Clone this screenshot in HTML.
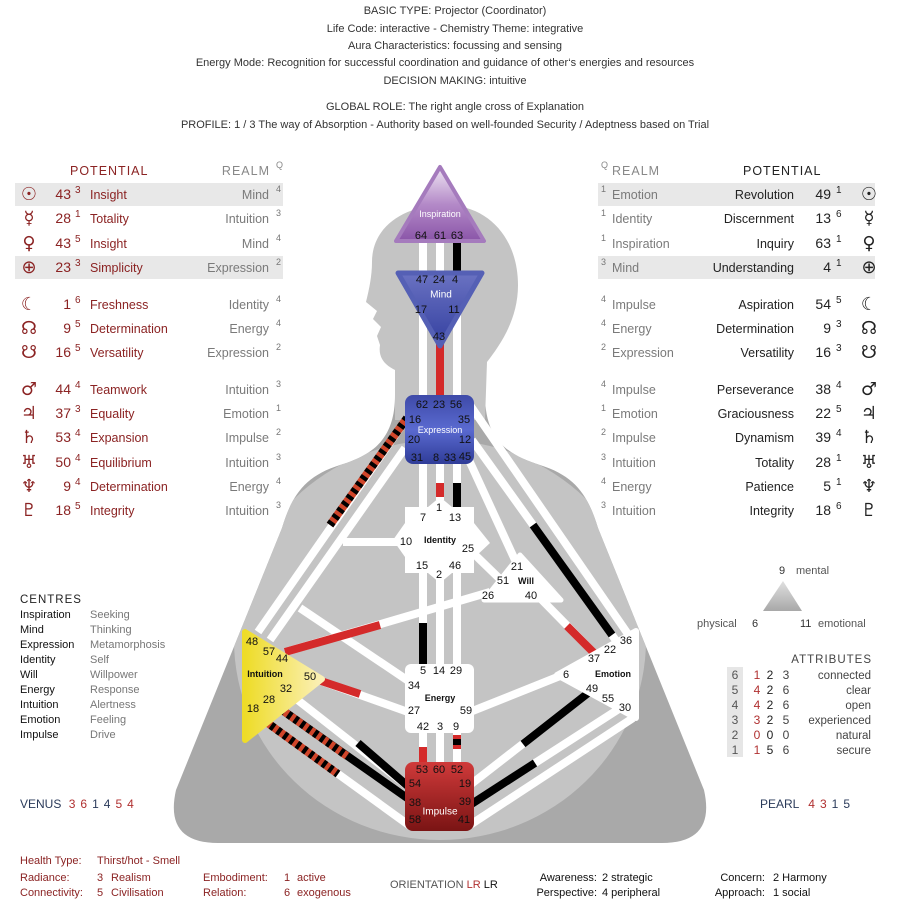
<!DOCTYPE html>
<html><head><meta charset="utf-8"><style>
html,body{margin:0;padding:0;background:#fff;}
svg{display:block;font-family:"Liberation Sans","DejaVu Sans",sans-serif;}
.t{font-size:11px;fill:#333;text-anchor:middle}
.lr{font-size:12.5px;fill:#8b2323}
.lg{font-size:12.5px;fill:#7a7a7a}
.sp{font-size:9px}
.g{font-size:11px;fill:#111;text-anchor:middle;dominant-baseline:central}
.gw{font-size:9px;fill:#fff;text-anchor:middle;dominant-baseline:central}
.gb{font-size:9px;fill:#111;text-anchor:middle;dominant-baseline:central;font-weight:bold}
.sym{font-family:"DejaVu Sans",sans-serif;font-size:18px}
</style></head><body>
<svg width="899" height="915" viewBox="0 0 899 915" xmlns="http://www.w3.org/2000/svg">
<defs>
<linearGradient id="insp" x1="0" y1="0" x2="0" y2="1"><stop offset="0" stop-color="#efe6f3"/><stop offset="0.5" stop-color="#b48ac8"/><stop offset="1" stop-color="#8a55a8"/></linearGradient>
<linearGradient id="mind" x1="0" y1="0" x2="0" y2="1"><stop offset="0" stop-color="#6a72c2"/><stop offset="1" stop-color="#3440a0"/></linearGradient>
<linearGradient id="expr" x1="0" y1="0" x2="0" y2="1"><stop offset="0" stop-color="#3e4aa8"/><stop offset="0.5" stop-color="#5a6ad0"/><stop offset="1" stop-color="#2f3c98"/></linearGradient>
<linearGradient id="imp" x1="0" y1="0" x2="0" y2="1"><stop offset="0" stop-color="#d03a3a"/><stop offset="1" stop-color="#7a1414"/></linearGradient>
<linearGradient id="intu" x1="0" y1="0" x2="1" y2="0"><stop offset="0" stop-color="#eedc28"/><stop offset="1" stop-color="#fbf0b8"/></linearGradient>
<linearGradient id="tri" x1="0" y1="0" x2="0" y2="1"><stop offset="0" stop-color="#e0e0e0"/><stop offset="1" stop-color="#a8a8a8"/></linearGradient>
<clipPath id="bodyclip"><path d="M395,395 C395,440 372,455 340,465 C305,476 292,495 282,528 L176,790 Q164,843 218,843 L662,843 Q716,843 704,790 L598,528 C588,495 575,476 540,465 C508,455 485,440 485,395 Z"/></clipPath>
</defs>

<text class="t" x="455" y="14">BASIC TYPE: Projector (Coordinator)</text>
<text class="t" x="455" y="32">Life Code: interactive  -  Chemistry Theme: integrative</text>
<text class="t" x="455" y="49">Aura Characteristics: focussing and sensing</text>
<text class="t" x="445" y="66">Energy Mode: Recognition for successful coordination and guidance of other‘s energies and resources</text>
<text class="t" x="455" y="84">DECISION MAKING: intuitive</text>
<text class="t" x="455" y="110">GLOBAL ROLE: The right angle cross of Explanation</text>
<text class="t" x="445" y="128">PROFILE: 1 / 3 The way of Absorption - Authority based on well-founded Security / Adeptness based on Trial</text>

<path d="M395,395 C395,440 372,455 340,465 C305,476 292,495 282,528 L176,790 Q164,843 218,843 L662,843 Q716,843 704,790 L598,528 C588,495 575,476 540,465 C508,455 485,440 485,395 Z" fill="#a9a9a9"/>
<ellipse cx="440" cy="640" rx="206" ry="200" fill="#c4c4c4" clip-path="url(#bodyclip)"/>
<path d="M395,420 L395,370 C385,365 378,358 380,345 L377,336 L381,327 L373,319 L377,311 L366,302 C369,290 372,276 372,262 C372,226 405,205 445,205 C490,205 518,240 518,285 C518,320 500,345 487,362 L485,420 Z" fill="#c4c4c4"/>

<g stroke-width="8" fill="none">
<line x1="423" y1="240" x2="423" y2="275" stroke="#fff"/>
<line x1="440" y1="240" x2="440" y2="275" stroke="#fff"/>
<line x1="457" y1="240" x2="457" y2="275" stroke="#000"/>
<line x1="423" y1="310" x2="423" y2="398" stroke="#fff"/>
<line x1="457" y1="310" x2="457" y2="398" stroke="#fff"/>
<line x1="440" y1="340" x2="440" y2="398" stroke="#d42a2a"/>
<line x1="423" y1="460" x2="423" y2="512" stroke="#fff"/>
<line x1="440" y1="460" x2="440" y2="500" stroke="#fff"/>
<line x1="440" y1="483" x2="440" y2="497" stroke="#d42a2a"/>
<line x1="457" y1="460" x2="457" y2="510" stroke="#fff"/>
<line x1="457" y1="483" x2="457" y2="510" stroke="#000"/>
<line x1="423" y1="570" x2="423" y2="668" stroke="#fff"/>
<line x1="423" y1="623" x2="423" y2="664" stroke="#000"/>
<line x1="440" y1="575" x2="440" y2="668" stroke="#fff"/>
<line x1="457" y1="570" x2="457" y2="668" stroke="#fff"/>
<line x1="423" y1="728" x2="423" y2="766" stroke="#fff"/>
<line x1="423" y1="747" x2="423" y2="766" stroke="#d42a2a"/>
<line x1="440" y1="728" x2="440" y2="766" stroke="#fff"/>
<line x1="457" y1="728" x2="457" y2="766" stroke="#fff"/>
<line x1="457" y1="735" x2="457" y2="749" stroke="#d42a2a"/>
<line x1="457" y1="739" x2="457" y2="745" stroke="#000"/>
<line x1="258" y1="632" x2="407" y2="418" stroke="#fff"/>
<line x1="330" y1="525" x2="407" y2="418" stroke="#d0452a"/>
<line x1="330" y1="525" x2="407" y2="418" stroke="#000" stroke-dasharray="4 4"/>
<line x1="270" y1="640" x2="405" y2="448" stroke="#fff"/>
<line x1="343" y1="542" x2="400" y2="542" stroke="#fff"/>
<line x1="300" y1="608" x2="410" y2="682" stroke="#fff"/>
<line x1="285" y1="652" x2="490" y2="592" stroke="#fff"/>
<line x1="285" y1="652" x2="380" y2="625" stroke="#d42a2a"/>
<line x1="318" y1="680" x2="408" y2="712" stroke="#fff"/>
<line x1="318" y1="680" x2="360" y2="694" stroke="#d42a2a"/>
<line x1="290" y1="694" x2="410" y2="788" stroke="#fff"/>
<line x1="358" y1="743" x2="410" y2="788" stroke="#000"/>
<line x1="275" y1="705" x2="410" y2="800" stroke="#000"/>
<line x1="275" y1="705" x2="347" y2="756" stroke="#d0452a"/>
<line x1="275" y1="705" x2="347" y2="756" stroke="#000" stroke-dasharray="4 4"/>
<line x1="258" y1="716" x2="410" y2="826" stroke="#fff"/>
<line x1="258" y1="716" x2="338" y2="774" stroke="#d0452a"/>
<line x1="258" y1="716" x2="338" y2="774" stroke="#000" stroke-dasharray="4 4"/>
<line x1="470" y1="405" x2="630" y2="637" stroke="#fff"/>
<line x1="472" y1="440" x2="617" y2="642" stroke="#fff"/>
<line x1="533" y1="525" x2="612" y2="635" stroke="#000"/>
<line x1="468" y1="458" x2="515" y2="560" stroke="#fff"/>
<line x1="470" y1="550" x2="503" y2="582" stroke="#fff"/>
<line x1="540" y1="598" x2="596" y2="655" stroke="#fff"/>
<line x1="567" y1="626" x2="596" y2="655" stroke="#d42a2a"/>
<line x1="470" y1="712" x2="560" y2="676" stroke="#fff"/>
<line x1="470" y1="785" x2="592" y2="690" stroke="#fff"/>
<line x1="523" y1="744" x2="592" y2="690" stroke="#000"/>
<line x1="470" y1="805" x2="625" y2="705" stroke="#fff"/>
<line x1="470" y1="805" x2="535" y2="763" stroke="#000"/>
<line x1="470" y1="825" x2="633" y2="718" stroke="#fff"/>
</g>

<path d="M440,167 L484,241 L396,241 Z" fill="url(#insp)" stroke="#a57bbd" stroke-width="4" stroke-linejoin="round"/>
<path d="M398,273 L482,273 L440,346 Z" fill="url(#mind)" stroke="#5560b5" stroke-width="5" stroke-linejoin="round"/>
<rect x="405" y="395" width="69" height="69" rx="8" fill="url(#expr)"/>
<polygon points="440,497 452,507 474,507 474,523 490,543 474,558 474,573 452,573 440,583 428,573 405,573 405,557 393,540 405,523 405,507 428,507" fill="#fff"/>
<path d="M484,600 L520,555 L561,600 Z" fill="#fff" stroke="#fff" stroke-width="5" stroke-linejoin="round"/>
<rect x="405" y="664" width="69" height="69" rx="6" fill="#fff"/>
<path d="M557,675 L636,631 L636,718 Z" fill="#fff" stroke="#fff" stroke-width="6" stroke-linejoin="round"/>
<path d="M245,632 L245,740 L322,679 Z" fill="url(#intu)" stroke="url(#intu)" stroke-width="6" stroke-linejoin="round"/>
<rect x="405" y="762" width="69" height="69" rx="8" fill="url(#imp)"/>

<text class="gw" x="440" y="214">Inspiration</text>
<text class="g" x="421" y="236">64</text><text class="g" x="440" y="236">61</text><text class="g" x="457" y="236">63</text>
<text class="g" x="422" y="280">47</text><text class="g" x="439" y="280">24</text><text class="g" x="455" y="280">4</text>
<text class="gw" x="441" y="295" style="font-size:10px">Mind</text>
<text class="g" x="421" y="310">17</text><text class="g" x="454" y="310">11</text>
<text class="g" x="439" y="337">43</text>
<text class="g" x="422" y="405">62</text><text class="g" x="439" y="405">23</text><text class="g" x="456" y="405">56</text>
<text class="g" x="415" y="420">16</text><text class="g" x="464" y="420">35</text>
<text class="gw" x="440" y="430">Expression</text>
<text class="g" x="414" y="440">20</text><text class="g" x="465" y="440">12</text>
<text class="g" x="417" y="458">31</text><text class="g" x="436" y="458">8</text><text class="g" x="450" y="458">33</text><text class="g" x="465" y="457">45</text>
<text class="g" x="439" y="508">1</text>
<text class="g" x="423" y="518">7</text><text class="g" x="455" y="518">13</text>
<text class="g" x="406" y="542">10</text><text class="gb" x="440" y="540">Identity</text><text class="g" x="468" y="549">25</text>
<text class="g" x="422" y="566">15</text><text class="g" x="439" y="575">2</text><text class="g" x="455" y="566">46</text>
<text class="g" x="517" y="567">21</text><text class="g" x="503" y="581">51</text><text class="gb" x="526" y="581">Will</text>
<text class="g" x="488" y="596">26</text><text class="g" x="531" y="596">40</text>
<text class="g" x="423" y="671">5</text><text class="g" x="439" y="671">14</text><text class="g" x="456" y="671">29</text>
<text class="g" x="414" y="686">34</text><text class="gb" x="440" y="698">Energy</text>
<text class="g" x="414" y="711">27</text><text class="g" x="466" y="711">59</text>
<text class="g" x="423" y="727">42</text><text class="g" x="440" y="727">3</text><text class="g" x="456" y="727">9</text>
<text class="g" x="626" y="641">36</text><text class="g" x="610" y="650">22</text><text class="g" x="594" y="659">37</text>
<text class="g" x="566" y="675">6</text><text class="gb" x="613" y="674">Emotion</text>
<text class="g" x="592" y="689">49</text><text class="g" x="608" y="699">55</text><text class="g" x="625" y="708">30</text>
<text class="g" x="252" y="642">48</text><text class="g" x="269" y="652">57</text><text class="g" x="282" y="659">44</text>
<text class="gb" x="265" y="674">Intuition</text><text class="g" x="310" y="677">50</text>
<text class="g" x="286" y="689">32</text><text class="g" x="269" y="700">28</text><text class="g" x="253" y="709">18</text>
<text class="g" x="422" y="770">53</text><text class="g" x="439" y="770">60</text><text class="g" x="457" y="770">52</text>
<text class="g" x="415" y="784">54</text><text class="g" x="465" y="784">19</text>
<text class="g" x="415" y="803">38</text><text class="g" x="465" y="802">39</text>
<text class="gw" x="440" y="812" style="font-size:10px">Impulse</text>
<text class="g" x="415" y="820">58</text><text class="g" x="464" y="820">41</text>

<rect x="15" y="183" width="268" height="23" fill="#e8e8e8"/>
<rect x="15" y="256" width="268" height="23" fill="#e8e8e8"/>
<text x="70" y="175" style="font-size:12.5px;fill:#8b2323;letter-spacing:1px">POTENTIAL</text>
<text x="270" y="175" text-anchor="end" style="font-size:12.5px;fill:#888;letter-spacing:1px">REALM</text>
<text x="276" y="168" class="sp" fill="#888">Q</text>
<g class="lr">
<g text-anchor="middle" class="sym">
<text x="29" y="200">☉</text><text x="29" y="224">☿</text><text x="29" y="249">♀</text><text x="29" y="273">⊕</text>
<text x="29" y="310">☾</text><text x="29" y="334">☊</text><text x="29" y="358">☋</text>
<text x="29" y="395">♂</text><text x="29" y="419">♃</text><text x="29" y="443">♄</text><text x="29" y="468">♅</text><text x="29" y="492">♆</text><text x="29" y="516">♇</text>
</g>
<g text-anchor="end" style="font-size:14px">
<text x="71" y="199">43</text><text x="71" y="223">28</text><text x="71" y="248">43</text><text x="71" y="272">23</text>
<text x="71" y="309">1</text><text x="71" y="333">9</text><text x="71" y="357">16</text>
<text x="71" y="394">44</text><text x="71" y="418">37</text><text x="71" y="442">53</text><text x="71" y="467">50</text><text x="71" y="491">9</text><text x="71" y="515">18</text>
</g>
<g style="font-size:10px">
<text x="75" y="193">3</text><text x="75" y="217">1</text><text x="75" y="242">5</text><text x="75" y="266">3</text>
<text x="75" y="303">6</text><text x="75" y="327">5</text><text x="75" y="351">5</text>
<text x="75" y="388">4</text><text x="75" y="412">3</text><text x="75" y="436">4</text><text x="75" y="461">4</text><text x="75" y="485">4</text><text x="75" y="509">5</text>
</g>
<text x="90" y="199">Insight</text><text x="90" y="223">Totality</text><text x="90" y="248">Insight</text><text x="90" y="272">Simplicity</text>
<text x="90" y="309">Freshness</text><text x="90" y="333">Determination</text><text x="90" y="357">Versatility</text>
<text x="90" y="394">Teamwork</text><text x="90" y="418">Equality</text><text x="90" y="442">Expansion</text><text x="90" y="467">Equilibrium</text><text x="90" y="491">Determination</text><text x="90" y="515">Integrity</text>
</g>
<g class="lg" text-anchor="end">
<text x="269" y="199">Mind</text><text x="269" y="223">Intuition</text><text x="269" y="248">Mind</text><text x="269" y="272">Expression</text>
<text x="269" y="309">Identity</text><text x="269" y="333">Energy</text><text x="269" y="357">Expression</text>
<text x="269" y="394">Intuition</text><text x="269" y="418">Emotion</text><text x="269" y="442">Impulse</text><text x="269" y="467">Intuition</text><text x="269" y="491">Energy</text><text x="269" y="515">Intuition</text>
</g>
<g style="font-size:9px;fill:#777">
<text x="276" y="192">4</text><text x="276" y="216">3</text><text x="276" y="241">4</text><text x="276" y="265">2</text>
<text x="276" y="302">4</text><text x="276" y="326">4</text><text x="276" y="350">2</text>
<text x="276" y="387">3</text><text x="276" y="411">1</text><text x="276" y="435">2</text><text x="276" y="460">3</text><text x="276" y="484">4</text><text x="276" y="508">3</text>
</g>

<rect x="598" y="183" width="277" height="23" fill="#e8e8e8"/>
<rect x="598" y="256" width="277" height="23" fill="#e8e8e8"/>
<text x="601" y="168" class="sp" fill="#888">Q</text>
<text x="612" y="175" style="font-size:12.5px;fill:#888;letter-spacing:1px">REALM</text>
<text x="743" y="175" style="font-size:12.5px;fill:#222;letter-spacing:1px">POTENTIAL</text>
<g style="font-size:9px;fill:#777">
<text x="601" y="192">1</text><text x="601" y="216">1</text><text x="601" y="241">1</text><text x="601" y="265">3</text>
<text x="601" y="302">4</text><text x="601" y="326">4</text><text x="601" y="350">2</text>
<text x="601" y="387">4</text><text x="601" y="411">1</text><text x="601" y="435">2</text><text x="601" y="460">3</text><text x="601" y="484">4</text><text x="601" y="508">3</text>
</g>
<g class="lg">
<text x="612" y="199">Emotion</text><text x="612" y="223">Identity</text><text x="612" y="248">Inspiration</text><text x="612" y="272">Mind</text>
<text x="612" y="309">Impulse</text><text x="612" y="333">Energy</text><text x="612" y="357">Expression</text>
<text x="612" y="394">Impulse</text><text x="612" y="418">Emotion</text><text x="612" y="442">Impulse</text><text x="612" y="467">Intuition</text><text x="612" y="491">Energy</text><text x="612" y="515">Intuition</text>
</g>
<g style="font-size:12.5px;fill:#222" text-anchor="end">
<text x="794" y="199">Revolution</text><text x="794" y="223">Discernment</text><text x="794" y="248">Inquiry</text><text x="794" y="272">Understanding</text>
<text x="794" y="309">Aspiration</text><text x="794" y="333">Determination</text><text x="794" y="357">Versatility</text>
<text x="794" y="394">Perseverance</text><text x="794" y="418">Graciousness</text><text x="794" y="442">Dynamism</text><text x="794" y="467">Totality</text><text x="794" y="491">Patience</text><text x="794" y="515">Integrity</text>
</g>
<g style="font-size:14px;fill:#222" text-anchor="end">
<text x="831" y="199">49</text><text x="831" y="223">13</text><text x="831" y="248">63</text><text x="831" y="272">4</text>
<text x="831" y="309">54</text><text x="831" y="333">9</text><text x="831" y="357">16</text>
<text x="831" y="394">38</text><text x="831" y="418">22</text><text x="831" y="442">39</text><text x="831" y="467">28</text><text x="831" y="491">5</text><text x="831" y="515">18</text>
</g>
<g style="font-size:10px;fill:#222">
<text x="836" y="193">1</text><text x="836" y="217">6</text><text x="836" y="242">1</text><text x="836" y="266">1</text>
<text x="836" y="303">5</text><text x="836" y="327">3</text><text x="836" y="351">3</text>
<text x="836" y="388">4</text><text x="836" y="412">5</text><text x="836" y="436">4</text><text x="836" y="461">1</text><text x="836" y="485">1</text><text x="836" y="509">6</text>
</g>
<g style="fill:#222" text-anchor="middle" class="sym">
<text x="869" y="200">☉</text><text x="869" y="224">☿</text><text x="869" y="249">♀</text><text x="869" y="273">⊕</text>
<text x="869" y="310">☾</text><text x="869" y="334">☊</text><text x="869" y="358">☋</text>
<text x="869" y="395">♂</text><text x="869" y="419">♃</text><text x="869" y="443">♄</text><text x="869" y="468">♅</text><text x="869" y="492">♆</text><text x="869" y="516">♇</text>
</g>

<text x="20" y="603" style="font-size:11.5px;fill:#222;letter-spacing:1px">CENTRES</text>
<g style="font-size:11px;fill:#111">
<text x="20" y="618">Inspiration</text><text x="20" y="633">Mind</text><text x="20" y="648">Expression</text><text x="20" y="663">Identity</text><text x="20" y="678">Will</text><text x="20" y="693">Energy</text><text x="20" y="708">Intuition</text><text x="20" y="723">Emotion</text><text x="20" y="738">Impulse</text>
</g>
<g style="font-size:11px;fill:#777">
<text x="90" y="618">Seeking</text><text x="90" y="633">Thinking</text><text x="90" y="648">Metamorphosis</text><text x="90" y="663">Self</text><text x="90" y="678">Willpower</text><text x="90" y="693">Response</text><text x="90" y="708">Alertness</text><text x="90" y="723">Feeling</text><text x="90" y="738">Drive</text>
</g>
<text x="20" y="808" style="font-size:12px;fill:#2a3a5a">VENUS <tspan fill="#b03030" dx="4">3</tspan><tspan fill="#b03030" dx="5">6</tspan><tspan fill="#2a3a5a" dx="5">1</tspan><tspan fill="#2a3a5a" dx="5">4</tspan><tspan fill="#b03030" dx="5">5</tspan><tspan fill="#b03030" dx="5">4</tspan></text>

<text x="779" y="574" style="font-size:11px;fill:#333">9</text><text x="796" y="574" style="font-size:11px;fill:#555">mental</text>
<path d="M783,581 L802,611 L763,611 Z" fill="url(#tri)"/>
<text x="697" y="627" style="font-size:11px;fill:#555">physical</text><text x="752" y="627" style="font-size:11px;fill:#333">6</text>
<text x="800" y="627" style="font-size:11px;fill:#333">11</text><text x="818" y="627" style="font-size:11px;fill:#555">emotional</text>

<text x="872" y="663" text-anchor="end" style="font-size:11.5px;fill:#444;letter-spacing:1px">ATTRIBUTES</text>
<rect x="727" y="667" width="16" height="90" fill="#e6e6e6"/>
<g style="font-size:12px" text-anchor="middle">
<g fill="#555"><text x="735" y="679">6</text><text x="735" y="694">5</text><text x="735" y="709">4</text><text x="735" y="724">3</text><text x="735" y="739">2</text><text x="735" y="754">1</text></g>
<g fill="#b03030"><text x="757" y="679">1</text><text x="757" y="694">4</text><text x="757" y="709">4</text><text x="757" y="724">3</text><text x="757" y="739">0</text><text x="757" y="754">1</text></g>
<g fill="#222"><text x="770" y="679">2</text><text x="770" y="694">2</text><text x="770" y="709">2</text><text x="770" y="724">2</text><text x="770" y="739">0</text><text x="770" y="754">5</text></g>
<g fill="#444"><text x="786" y="679">3</text><text x="786" y="694">6</text><text x="786" y="709">6</text><text x="786" y="724">5</text><text x="786" y="739">0</text><text x="786" y="754">6</text></g>
</g>
<g style="font-size:11.5px;fill:#444" text-anchor="end">
<text x="871" y="679">connected</text><text x="871" y="694">clear</text><text x="871" y="709">open</text><text x="871" y="724">experienced</text><text x="871" y="739">natural</text><text x="871" y="754">secure</text>
</g>
<text x="760" y="808" style="font-size:12px;fill:#2a3a5a">PEARL <tspan fill="#b03030" dx="6">4</tspan><tspan fill="#b03030" dx="5">3</tspan><tspan fill="#2a3a5a" dx="5">1</tspan><tspan fill="#2a3a5a" dx="5">5</tspan></text>

<g style="font-size:11px;fill:#8b2323">
<text x="20" y="864">Health Type:</text><text x="97" y="864">Thirst/hot - Smell</text>
<text x="20" y="881">Radiance:</text><text x="97" y="881">3</text><text x="111" y="881">Realism</text>
<text x="20" y="896">Connectivity:</text><text x="97" y="896">5</text><text x="111" y="896">Civilisation</text>
<text x="203" y="881">Embodiment:</text><text x="284" y="881">1</text><text x="297" y="881">active</text>
<text x="203" y="896">Relation:</text><text x="284" y="896">6</text><text x="297" y="896">exogenous</text>
</g>
<text x="390" y="888" style="font-size:11px;fill:#555">ORIENTATION <tspan fill="#b03030">LR</tspan> <tspan fill="#111">LR</tspan></text>
<g style="font-size:11px;fill:#111">
<text x="597" y="881" text-anchor="end">Awareness:</text><text x="602" y="881">2 strategic</text>
<text x="597" y="896" text-anchor="end">Perspective:</text><text x="602" y="896">4 peripheral</text>
<text x="765" y="881" text-anchor="end">Concern:</text><text x="773" y="881">2 Harmony</text>
<text x="765" y="896" text-anchor="end">Approach:</text><text x="773" y="896">1 social</text>
</g>
</svg>
</body></html>
